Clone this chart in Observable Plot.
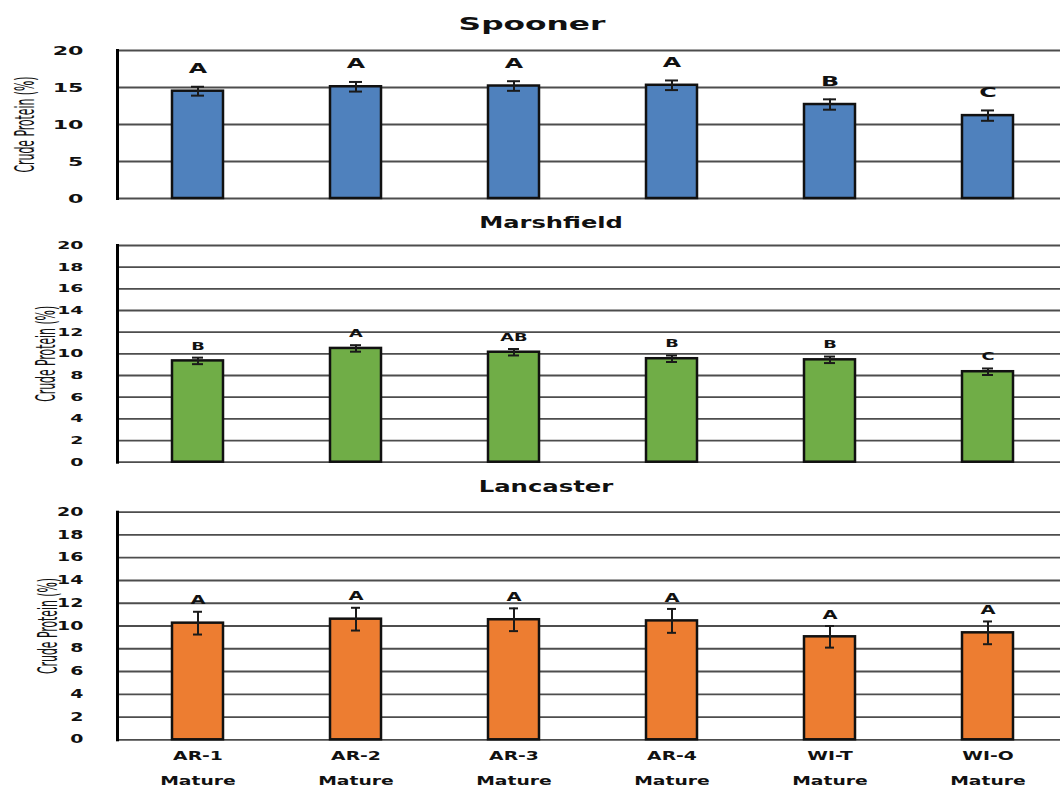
<!DOCTYPE html>
<html><head><meta charset="utf-8">
<script src="https://cdn.jsdelivr.net/npm/d3@7"></script>
<script src="https://cdn.jsdelivr.net/npm/@observablehq/plot@0.6"></script>
<style>
body{margin:0;background:#fff;}
#wrap{position:relative;width:1060px;height:787px;overflow:hidden;background:#fff;}
.panel{position:absolute;left:0;}
</style></head><body><div id="wrap"></div>
<script>
// ---- data ----
const varieties = ["AR-1", "AR-2", "AR-3", "AR-4", "WI-T", "WI-O"];
const stageLabels = ["Mature", "Mature", "Mature", "Mature", "Mature", "Mature"];
const yTitle = "Crude Protein (%)";

const spoonerTitle = "Spooner";
const spoonerCP = [14.5, 15.1, 15.2, 15.3, 12.7, 11.2];
const spoonerErr = [0.6, 0.65, 0.65, 0.65, 0.7, 0.7];
const spoonerLetters = ["A", "A", "A", "A", "B", "C"];
const spoonerTicks = [0, 5, 10, 15, 20];

const marshTitle = "Marshfield";
const marshCP = [9.35, 10.5, 10.15, 9.55, 9.45, 8.35];
const marshErr = [0.3, 0.3, 0.3, 0.3, 0.3, 0.3];
const marshLetters = ["B", "A", "AB", "B", "B", "C"];
const marshTicks = [0, 2, 4, 6, 8, 10, 12, 14, 16, 18, 20];

const lancTitle = "Lancaster";
const lancCP = [10.25, 10.6, 10.55, 10.45, 9.05, 9.4];
const lancErr = [1.0, 1.0, 1.0, 1.05, 0.95, 1.0];
const lancLetters = ["A", "A", "A", "A", "A", "A"];
const lancTicks = [0, 2, 4, 6, 8, 10, 12, 14, 16, 18, 20];

const yDomain = [0, 20];

// ---- drawing ----
const wrap = document.getElementById("wrap");

function build(cfg) {
  const rows = varieties.map((v, i) => ({variety: v, cp: cfg.cp[i], err: cfg.err[i], letter: cfg.letters[i]}));
  const marks = [
    Plot.ruleY(cfg.ticks, {stroke: "#4d4d4d", strokeWidth: 1.8}),
    Plot.barY(rows, {x: "variety", y: "cp", fill: cfg.color, stroke: "#111", strokeWidth: 2.5}),
    Plot.ruleX(rows, {x: "variety", y1: d => d.cp - d.err, y2: d => d.cp + d.err, stroke: "#1a1a1a", strokeWidth: 2}),
    Plot.tickY(rows, {x: "variety", y: d => d.cp - d.err, stroke: "#1a1a1a", strokeWidth: 2, insetLeft: cfg.capInset, insetRight: cfg.capInset}),
    Plot.tickY(rows, {x: "variety", y: d => d.cp + d.err, stroke: "#1a1a1a", strokeWidth: 2, insetLeft: cfg.capInset, insetRight: cfg.capInset}),
    Plot.text(rows, {x: "variety", y: d => d.cp + d.err, text: "letter", dy: cfg.letterDy, lineAnchor: "middle",
      fontSize: cfg.letterSize, fontWeight: "bold", fill: "#111"}),
    Plot.axisY(cfg.ticks, {tickSize: 0, tickPadding: 34, fontSize: cfg.tickSize, fontWeight: "bold", label: null}),
    Plot.frame({anchor: "left", stroke: "#000", strokeWidth: 3}),
    Plot.text([cfg.title], {frameAnchor: "top", dx: cfg.titleDx, dy: cfg.titleDy, lineAnchor: "middle",
      fontSize: cfg.titleSize, fontWeight: "bold", fill: "#111", text: d => d}),
    Plot.text([yTitle], {frameAnchor: "left", rotate: -90, dx: cfg.yTitleDx, lineAnchor: "middle", textAnchor: "middle",
      fontSize: 14, fontWeight: "normal", fontFamily: "Liberation Sans Narrow, DejaVu Sans Condensed, sans-serif",
      fill: "#111", text: d => d})
  ];
  if (cfg.xAxis) {
    marks.push(Plot.axisX({tickSize: 0, tickPadding: 11, fontSize: 12.5, fontWeight: "bold", label: null}));
    marks.push(Plot.axisX({tickSize: 0, tickPadding: 36, fontSize: 12.5, fontWeight: "bold", label: null,
      tickFormat: d => stageLabels[varieties.indexOf(d)]}));
  }
  const svg = Plot.plot({
    width: 1060,
    height: cfg.height,
    marginTop: cfg.marginTop,
    marginBottom: cfg.marginBottom,
    marginLeft: 117,
    marginRight: 0,
    style: {fontFamily: "DejaVu Sans", fontWeight: "bold", fontSize: "13px", color: "#111", background: "transparent", overflow: "visible"},
    x: {type: "band", domain: varieties, range: [117, 1068], paddingInner: 0.68, paddingOuter: 0.34, axis: null, label: null},
    y: {domain: yDomain, axis: null, label: null},
    marks
  });
  const div = document.createElement("div");
  div.className = "panel";
  div.style.top = cfg.top + "px";
  div.appendChild(svg);
  wrap.appendChild(div);

  const tickStrings = cfg.ticks.map(String);
  svg.querySelectorAll("text").forEach(t => {
    if (t.querySelector("tspan")) return;
    const s = t.textContent;
    let target;
    const len = t.getComputedTextLength();
    if (s === yTitle) {
      target = 96;
      const tr = t.getAttribute("transform");
      if (tr && tr.includes("rotate")) t.setAttribute("transform", tr + " scale(1,1.85)");
    }
    else if (s === cfg.title) target = len * cfg.titleStretch;
    else if (tickStrings.includes(s)) target = len * cfg.tickStretch;
    else if (varieties.includes(s) || stageLabels.includes(s)) target = len * 1.5;
    else target = len * 1.7;
    if (len > 0) {
      t.setAttribute("textLength", target.toFixed(1));
      t.setAttribute("lengthAdjust", "spacingAndGlyphs");
    }
  });
}

build({title: spoonerTitle, cp: spoonerCP, err: spoonerErr, letters: spoonerLetters, ticks: spoonerTicks,
  color: "#4f81bd", top: 0, height: 210, marginTop: 50, marginBottom: 12,
  tickSize: 13, tickStretch: 1.7, letterSize: 14, letterDy: -18, capInset: 19,
  titleSize: 17, titleStretch: 1.84, titleDx: -57, titleDy: -26, yTitleDx: -92, xAxis: false});

build({title: marshTitle, cp: marshCP, err: marshErr, letters: marshLetters, ticks: marshTicks,
  color: "#70ad47", top: 210, height: 260, marginTop: 35, marginBottom: 8.3,
  tickSize: 10.5, tickStretch: 1.8, letterSize: 10.5, letterDy: -11.5, capInset: 20,
  titleSize: 16, titleStretch: 1.51, titleDx: -38, titleDy: -23, yTitleDx: -71, xAxis: false});

build({title: lancTitle, cp: lancCP, err: lancErr, letters: lancLetters, ticks: lancTicks,
  color: "#ed7d31", top: 470, height: 317, marginTop: 41.7, marginBottom: 47.7,
  tickSize: 11.5, tickStretch: 1.65, letterSize: 11.5, letterDy: -11, capInset: 21,
  titleSize: 16, titleStretch: 1.52, titleDx: -43, titleDy: -25, yTitleDx: -69, xAxis: true});
</script>
</body></html>
